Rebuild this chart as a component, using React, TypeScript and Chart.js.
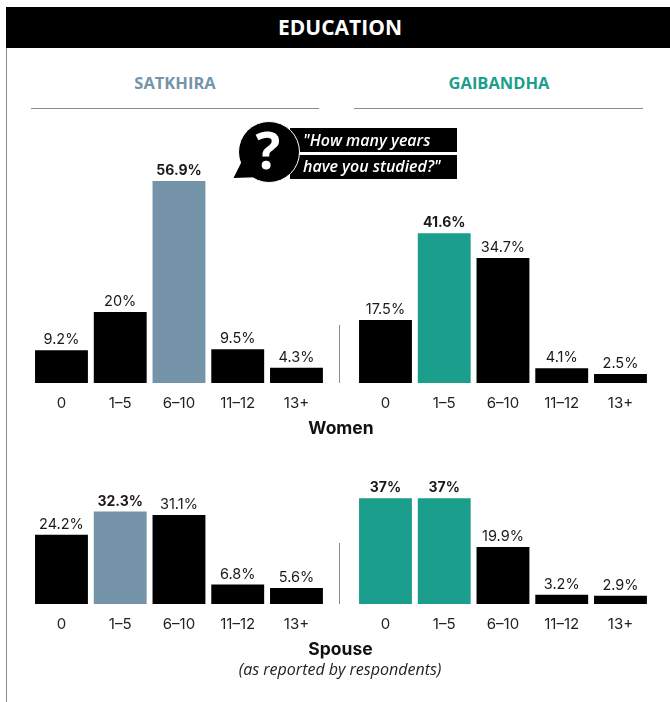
import React, { useEffect, useRef } from "react";
import { Chart, registerables } from "chart.js";

Chart.register(...registerables);

const categories = ["0", "1–5", "6–10", "11–12", "13+"];

const satkhiraWomen = [9.2, 20, 56.9, 9.5, 4.3];
const gaibandhaWomen = [17.5, 41.6, 34.7, 4.1, 2.5];
const satkhiraSpouse = [24.2, 32.3, 31.1, 6.8, 5.6];
const gaibandhaSpouse = [37, 37, 19.9, 3.2, 2.9];

const satkhiraWomenPeak = [2];
const gaibandhaWomenPeak = [1];
const satkhiraSpousePeak = [1];
const gaibandhaSpousePeak = [0, 1];

const SLATE = "#7594a9";
const TEAL = "#1c9e8c";
const INK = "#000000";
const NUMBER_FONT = "Inter, sans-serif";
const HEAD_FONT = "'Open Sans', sans-serif";

const valueLabels = {
  id: "valueLabels",
  afterDatasetsDraw(chart: any) {
    const { ctx } = chart;
    const meta = chart.getDatasetMeta(0);
    const ds = chart.data.datasets[0];
    const peaks: number[] = chart.options.plugins.valueLabels.peaks;
    ctx.save();
    ctx.textAlign = "center";
    ctx.textBaseline = "alphabetic";
    ctx.fillStyle = "#1a1a1a";
    meta.data.forEach((bar: any, i: number) => {
      const strong = peaks.includes(i);
      ctx.font = strong ? `700 14px ${NUMBER_FONT}` : `400 14.5px ${NUMBER_FONT}`;
      ctx.fillText(`${ds.data[i]}%`, bar.x, bar.y - 6);
    });
    ctx.restore();
  },
};

type PanelProps = {
  values: number[];
  peaks: number[];
  accent: string;
  top: number;
  left: number;
  height: number;
  yMax: number;
  padLeft: number;
  padRight: number;
};

function Panel({ values, peaks, accent, top, left, height, yMax, padLeft, padRight }: PanelProps) {
  const ref = useRef<HTMLCanvasElement>(null);
  useEffect(() => {
    const chart = new Chart(ref.current!, {
      type: "bar",
      data: {
        labels: categories,
        datasets: [
          {
            data: values,
            backgroundColor: values.map((_, i) => (peaks.includes(i) ? accent : INK)),
            barPercentage: 0.9,
            categoryPercentage: 1,
          },
        ],
      },
      options: {
        animation: false,
        responsive: false,
        layout: { padding: { left: padLeft, right: padRight, top: 0, bottom: 0 } },
        plugins: {
          legend: { display: false },
          tooltip: { enabled: false },
          valueLabels: { peaks },
        } as any,
        scales: {
          y: { display: false, min: 0, max: yMax },
          x: {
            afterFit: (s: any) => {
              s.height = 40;
            },
            grid: { display: false },
            border: { display: false },
            ticks: {
              color: "#222222",
              padding: 3,
              maxRotation: 0,
              autoSkip: false,
              font: { family: NUMBER_FONT, size: 15, weight: 400 },
            },
          },
        },
      },
      plugins: [valueLabels],
    });
    return () => chart.destroy();
  }, []);
  return (
    <canvas
      ref={ref}
      width={335}
      height={height}
      style={{ position: "absolute", left, top, width: 335, height }}
    />
  );
}

function centered(top: number, cx: number, style: React.CSSProperties, text: string) {
  return (
    <div
      style={{
        position: "absolute",
        top,
        left: cx - 200,
        width: 400,
        textAlign: "center",
        whiteSpace: "nowrap",
        ...style,
      }}
    >
      {text}
    </div>
  );
}

const rule = (left: number, top: number, width: number, height: number) => (
  <div style={{ position: "absolute", left, top, width, height, background: "#8a8a8a" }} />
);

export default function App() {
  useEffect(() => {
    document.body.style.margin = "0";
  }, []);
  return (
    <div style={{ position: "absolute", left: 0, top: 0, width: 670, height: 702, background: "#fff", overflow: "hidden" }}>
      <div style={{ position: "absolute", left: 6, top: 7, width: 664, height: 41, background: "#000" }} />
      {rule(6, 48, 1, 654)}
      {centered(12, 340, { font: `700 21px/30px ${HEAD_FONT}`, color: "#fff" }, "EDUCATION")}
      {centered(72, 175, { font: `700 16.5px/22px ${HEAD_FONT}`, color: SLATE }, "SATKHIRA")}
      {centered(72, 499, { font: `700 16.5px/22px ${HEAD_FONT}`, color: TEAL }, "GAIBANDHA")}
      {rule(31, 108, 288, 1)}
      {rule(354, 108, 289, 1)}
      {rule(339, 325, 1, 58)}
      {rule(339, 543, 1, 61)}

      <Panel values={satkhiraWomen} peaks={satkhiraWomenPeak} accent={SLATE} top={120} left={0} height={303} yMax={74.08} padLeft={32.1} padRight={9.15} />
      <Panel values={gaibandhaWomen} peaks={gaibandhaWomenPeak} accent={TEAL} top={120} left={335} height={303} yMax={73.05} padLeft={21.1} padRight={20.15} />
      <Panel values={satkhiraSpouse} peaks={satkhiraSpousePeak} accent={SLATE} top={470} left={0} height={174} yMax={46.85} padLeft={32.1} padRight={9.15} />
      <Panel values={gaibandhaSpouse} peaks={gaibandhaSpousePeak} accent={TEAL} top={470} left={335} height={174} yMax={46.85} padLeft={21.1} padRight={20.15} />

      {centered(416, 341, { font: `700 17.5px/24px ${NUMBER_FONT}`, color: "#111" }, "Women")}
      {centered(637, 340.5, { font: `700 17.5px/24px ${NUMBER_FONT}`, color: "#111" }, "Spouse")}
      {centered(659, 340, { font: `italic 400 16px/20px ${HEAD_FONT}`, color: "#222" }, "(as reported by respondents)")}

      <svg width={240} height={70} viewBox="230 118 240 70" style={{ position: "absolute", left: 230, top: 118 }}>
        <rect x={290} y={128} width={167} height={24} fill="#000" />
        <rect x={290} y={155} width={167} height={24} fill="#000" />
        <circle cx={269} cy={152} r={30.5} fill="#000" stroke="#fff" strokeWidth={1} />
        <path d="M233.5 178 L243.5 158 L262 177 Z" fill="#000" />
        <text x={268} y={169} textAnchor="middle" fill="#fff" style={{ font: `700 52px ${HEAD_FONT}` }}>?</text>
        <text x={303} y={145.5} fill="#fff" style={{ font: `italic 600 16px ${HEAD_FONT}` }}>"How many years</text>
        <text x={303} y={172} fill="#fff" style={{ font: `italic 600 16px ${HEAD_FONT}` }}>have you studied?"</text>
      </svg>
    </div>
  );
}
